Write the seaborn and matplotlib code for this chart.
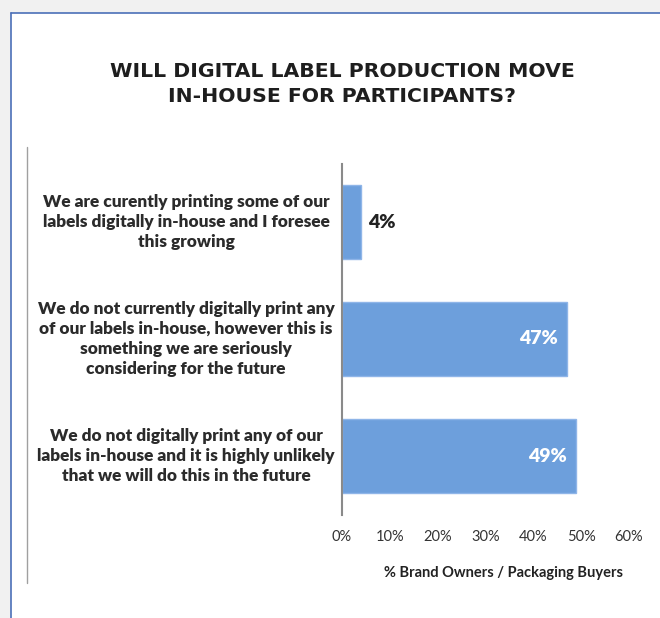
import matplotlib
matplotlib.use("Agg")
import matplotlib.pyplot as plt
import matplotlib.transforms as mtransforms
from matplotlib.patches import Rectangle
from matplotlib.lines import Line2D
from matplotlib.ticker import FuncFormatter
import seaborn as sns
import pandas as pd

# Survey responses and shares of respondents
categories = [
    "We are curently printing some of our\nlabels digitally in-house and I foresee\nthis growing",
    "We do not currently digitally print any\nof our labels in-house, however this is\nsomething we are seriously\nconsidering for the future",
    "We do not digitally print any of our\nlabels in-house and it is highly unlikely\nthat we will do this in the future",
]
shares = [4, 47, 49]
x_ticks = [0, 10, 20, 30, 40, 50, 60]

df = pd.DataFrame({"response": categories, "share": shares})

sns.set_theme(style="white")
plt.rcParams["font.family"] = ["Lato", "DejaVu Sans"]

W, H = 660, 618
fig = plt.figure(figsize=(W / 100, H / 100), dpi=100, facecolor="#f1f1f1")

# white panel with a blue frame line on top and left
fig.add_artist(Rectangle((11 / W, 0), 1, 1 - 13 / H, transform=fig.transFigure,
                         facecolor="white", edgecolor="none", zorder=0))
fig.add_artist(Line2D([11 / W, 1], [1 - 13 / H, 1 - 13 / H], transform=fig.transFigure,
                      color="#4b70b8", lw=1.2))
fig.add_artist(Line2D([11 / W, 11 / W], [0, 1 - 13 / H], transform=fig.transFigure,
                      color="#4b70b8", lw=1.2))
# thin grey rule at the left of the chart area
fig.add_artist(Line2D([27 / W, 27 / W], [1 - 147 / H, 1 - 583 / H], transform=fig.transFigure,
                      color="#a0a0a0", lw=1.0))

ax = fig.add_axes([342 / W, 1 - 514.5 / H, (629 - 342) / W, (514.5 - 163.5) / H])
ax.set_facecolor("none")

sns.barplot(data=df, y="response", x="share", orient="h", ax=ax,
            color="#6d9fdc", saturation=1, width=0.63,
            edgecolor="#8fb5e8", linewidth=1.0)

ax.set_xlim(0, 60)
ax.set_xticks(x_ticks)
ax.xaxis.set_major_formatter(FuncFormatter(lambda v, p: f"{v:.0f}%"))
ax.tick_params(axis="x", length=0, pad=11, labelsize=10.5, labelcolor="#333333")
ax.tick_params(axis="y", length=0, pad=0)
ax.set_yticklabels([])
ax.set_ylabel("")
ax.set_xlabel("% Brand Owners / Packaging Buyers", fontsize=10.5, fontweight="bold",
              color="#222222", labelpad=16)
ax.xaxis.label.set_x((503 - 342) / (629 - 342))

for side in ["top", "right", "bottom"]:
    ax.spines[side].set_visible(False)
ax.spines["left"].set_color("#8a8a8a")
ax.spines["left"].set_linewidth(1.5)

# category labels centred to the left of the axis
label_tr = mtransforms.blended_transform_factory(fig.transFigure, ax.transData)
for i, txt in enumerate(categories):
    ax.text(186 / W, i, txt, transform=label_tr, ha="center", va="center",
            fontsize=12.4, fontweight="heavy", color="#2b2b2b", linespacing=1.33)

# value labels
for i, v in enumerate(shares):
    if v < 10:
        ax.text(v + 1.5, i, f"{v}%", ha="left", va="center", fontsize=14,
                fontweight="heavy", color="#222222")
    else:
        ax.text(v - 1.9, i, f"{v}%", ha="right", va="center", fontsize=14,
                fontweight="heavy", color="white")

fig.text(342 / W, 1 - 84 / H, "WILL DIGITAL LABEL PRODUCTION MOVE\nIN-HOUSE FOR PARTICIPANTS?",
         ha="center", va="center", fontsize=14.7, fontweight="bold", color="#1e1e1e",
         linespacing=1.45, family=["DejaVu Sans"])

fig.savefig("out.png", dpi=100, facecolor=fig.get_facecolor())
